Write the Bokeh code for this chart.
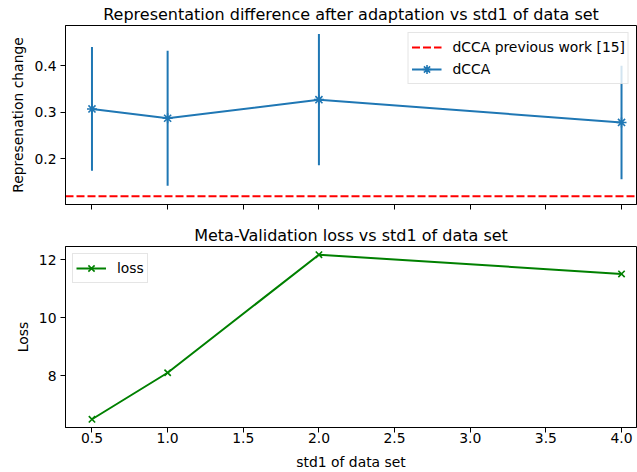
import numpy as np
from bokeh.plotting import figure
from bokeh.layouts import column
from bokeh.models import (FixedTicker, Legend, LegendItem, Range1d,
                          CustomJSTickFormatter, PrintfTickFormatter)
from bokeh.embed import file_html
from bokeh.resources import INLINE

# ---------------- data ----------------
std1 = [0.5, 1.0, 2.0, 4.0]
rep_change = [0.307, 0.287, 0.327, 0.278]
rep_err = [0.133, 0.145, 0.141, 0.122]
prev_work = 0.119
loss = [6.51, 8.11, 12.17, 11.51]

x_ticks = [0.5, 1.0, 1.5, 2.0, 2.5, 3.0, 3.5, 4.0]
rep_ticks = [0.2, 0.3, 0.4]
loss_ticks = [8, 10, 12]

title_top = "Representation difference after adaptation vs std1 of data set"
title_bottom = "Meta-Validation loss vs std1 of data set"

BLUE = "#1f77b4"
GREEN = "#008000"
RED = "#ff0000"
FONT = "DejaVu Sans"
FS = "13.9px"

X_START, X_END = 0.325, 4.099
FRAME_W = 571
LEFT = 65


def style(p):
    p.xgrid.visible = False
    p.ygrid.visible = False
    p.outline_line_color = "black"
    p.outline_line_width = 1
    p.background_fill_color = "white"
    p.border_fill_color = "white"
    p.title.text_font = FONT
    p.title.text_font_size = "16px"
    p.title.text_font_style = "normal"
    p.title.text_color = "black"
    p.title.align = "center"
    p.title.standoff = 4
    for ax in (p.xaxis[0], p.yaxis[0]):
        ax.axis_line_color = "black"
        ax.major_tick_line_color = "black"
        ax.major_tick_in = 0
        ax.major_tick_out = 5
        ax.minor_tick_line_color = None
        ax.major_label_text_font = FONT
        ax.major_label_text_font_size = FS
        ax.major_label_text_color = "black"
        ax.major_label_standoff = 4
        ax.axis_label_text_font = FONT
        ax.axis_label_text_font_size = FS
        ax.axis_label_text_font_style = "normal"
        ax.axis_label_text_color = "black"
        ax.axis_label_standoff = 5


def legend(items, location):
    lg = Legend(items=items, location=location)
    lg.label_text_font = FONT
    lg.label_text_font_size = FS
    lg.label_text_color = "black"
    lg.label_height = 17
    lg.glyph_height = 22
    lg.glyph_width = 30
    lg.label_standoff = 11
    lg.spacing = 0
    lg.padding = 3
    lg.margin = 7
    lg.border_line_color = "#cccccc"
    lg.border_line_width = 1
    lg.background_fill_color = "white"
    lg.background_fill_alpha = 0.8
    return lg


# ---------------- top figure ----------------
p1 = figure(frame_width=FRAME_W, frame_height=179,
            x_range=Range1d(X_START, X_END), y_range=Range1d(0.1015, 0.4865),
            output_backend="svg", toolbar_location=None,
            min_border_left=LEFT, min_border_right=1, min_border_top=0,
            min_border_bottom=17, title=title_top)
style(p1)
p1.yaxis.axis_label = "Represenation change"
p1.xaxis.ticker = FixedTicker(ticks=x_ticks)
p1.xaxis.formatter = CustomJSTickFormatter(code="return ''")
p1.xaxis.major_label_standoff = 0
p1.xaxis.major_label_text_font_size = "1px"
p1.yaxis.ticker = FixedTicker(ticks=rep_ticks)

low = [m - e for m, e in zip(rep_change, rep_err)]
high = [m + e for m, e in zip(rep_change, rep_err)]

r_prev = p1.line(x=[X_START, X_END], y=[prev_work, prev_work], line_color=RED,
                 line_width=2, line_dash="8 3")
p1.segment(x0=std1, y0=low, x1=std1, y1=high, line_color=BLUE, line_width=2)
r_line = p1.line(x=std1, y=rep_change, line_color=BLUE, line_width=2)
r_mark = p1.scatter(x=std1, y=rep_change, marker="asterisk", size=10,
                    line_color=BLUE, line_width=1.6)

lg1 = legend([LegendItem(label="dCCA previous work [15]", renderers=[r_prev]),
              LegendItem(label="dCCA", renderers=[r_line, r_mark])], "top_right")
p1.add_layout(lg1)

# ---------------- bottom figure ----------------
p2 = figure(frame_width=FRAME_W, frame_height=181,
            x_range=Range1d(X_START, X_END), y_range=Range1d(6.227, 12.453),
            output_backend="svg", toolbar_location=None,
            min_border_left=LEFT, min_border_right=1, min_border_top=0,
            min_border_bottom=0, title=title_bottom)
style(p2)
p2.xaxis.axis_label = "std1 of data set"
p2.yaxis.axis_label = "Loss"
p2.xaxis.ticker = FixedTicker(ticks=x_ticks)
p2.xaxis.formatter = PrintfTickFormatter(format="%.1f")
p2.xaxis.major_label_standoff = 0
p2.xaxis.axis_label_standoff = 8
p2.yaxis.ticker = FixedTicker(ticks=loss_ticks)

l_line = p2.line(x=std1, y=loss, line_color=GREEN, line_width=2)
l_mark = p2.scatter(x=std1, y=loss, marker="x", size=9, line_color=GREEN,
                    line_width=1.6)
lg2 = legend([LegendItem(label="loss", renderers=[l_line, l_mark])], "top_left")
p2.add_layout(lg2)

layout = column(p1, p2, spacing=0)
open("out.html", "w").write(file_html(layout, INLINE))
